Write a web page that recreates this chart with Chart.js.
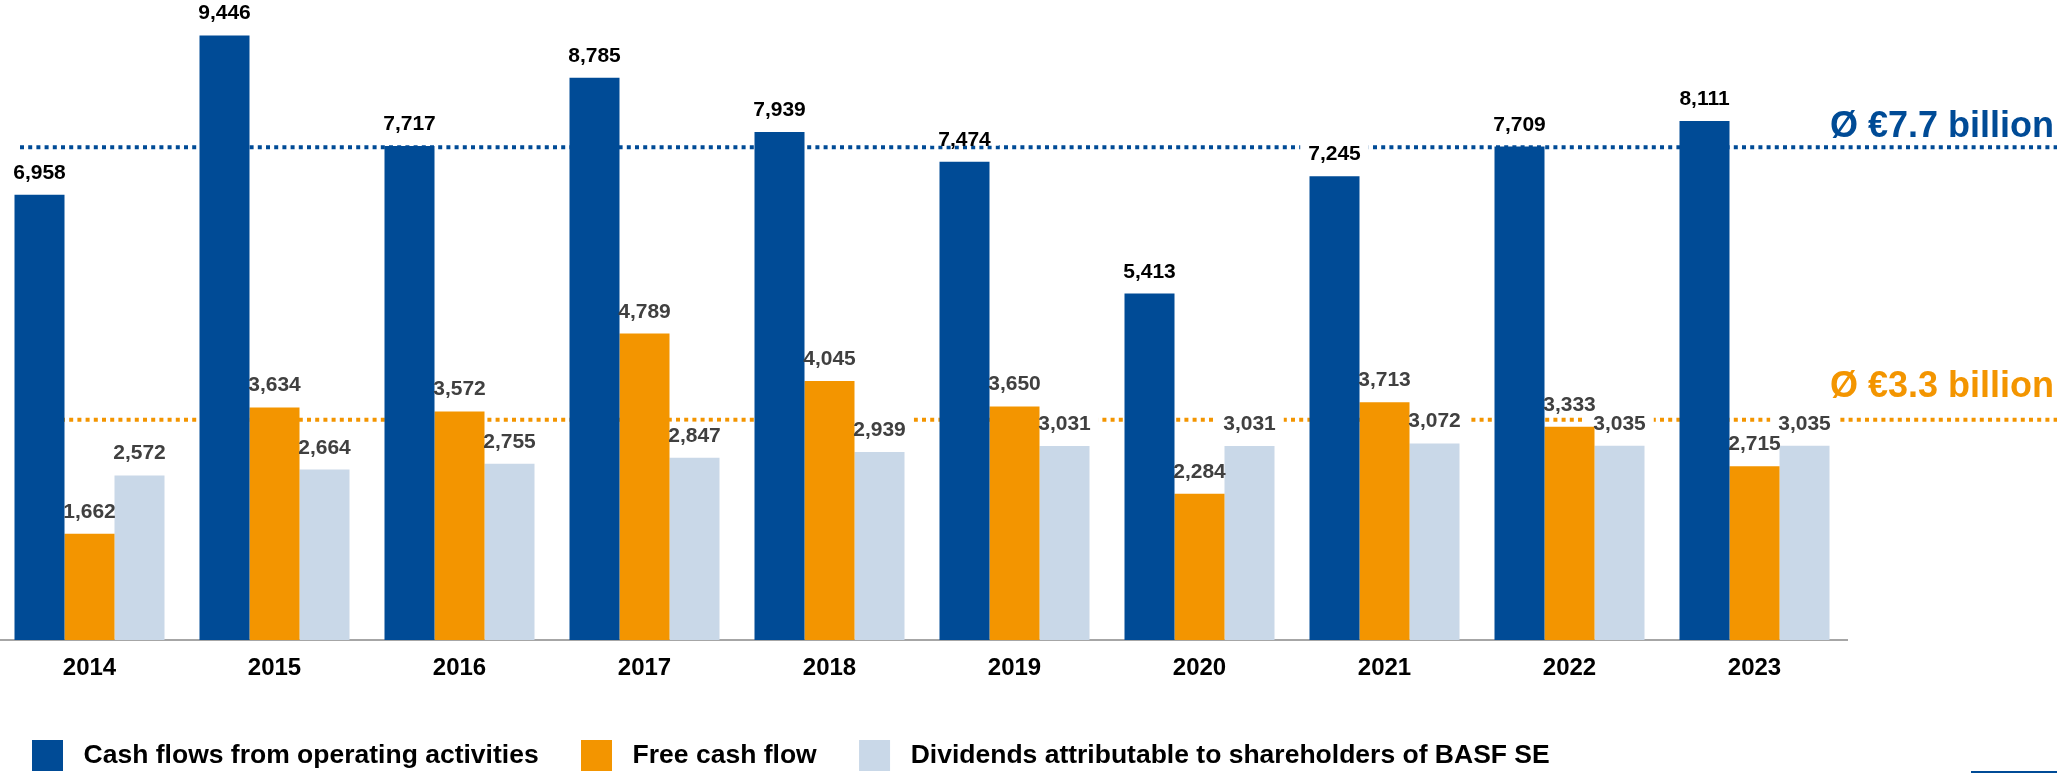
<!DOCTYPE html>
<html>
<head>
<meta charset="utf-8">
<script src="https://cdn.jsdelivr.net/npm/chart.js@4.4.1/dist/chart.umd.min.js"></script>
<style>
    html, body { margin: 0; padding: 0; background: #fff; overflow: hidden; }
    #wrap { position: absolute; left: -3px; top: 0; width: 2060px; height: 781px; }
</style>
</head>
<body>
<div id="wrap"><canvas id="cashChart"></canvas></div>
<script>
const years = ['2014', '2015', '2016', '2017', '2018', '2019', '2020', '2021', '2022', '2023'];
const operatingCashFlow = [6958, 9446, 7717, 8785, 7939, 7474, 5413, 7245, 7709, 8111];
const freeCashFlow = [1662, 3634, 3572, 4789, 4045, 3650, 2284, 3713, 3333, 2715];
const dividends = [2572, 2664, 2755, 2847, 2939, 3031, 3031, 3072, 3035, 3035];
const seriesNames = [
    'Cash flows from operating activities',
    'Free cash flow',
    'Dividends attributable to shareholders of BASF SE'
];
const averageValues = [7700, 3440];
const averageLabels = ['Ø €7.7 billion', 'Ø €3.3 billion'];

const BLUE = '#004B96';
const ORANGE = '#F39500';
const LIGHT = '#C9D8E8';
const FONT = "'Liberation Sans', Arial, sans-serif";

Chart.defaults.font.family = FONT;

const labelColors = ['#000000', '#404040', '#404040'];
const avgColors = [BLUE, ORANGE];
const avgCaptionLift = [10, 23];

function valueLabelItems(chart) {
    const items = [];
    chart.data.datasets.forEach((ds, di) => {
        const meta = chart.getDatasetMeta(di);
        meta.data.forEach((bar, i) => {
            items.push({
                text: ds.data[i].toLocaleString('en-US'),
                x: bar.x,
                y: bar.y - 16,
                color: labelColors[di]
            });
        });
    });
    return items;
}

const overlayPlugin = {
    id: 'overlay',
    beforeDatasetsDraw(chart) {
        const { ctx, scales: { y } } = chart;
        ctx.save();
        // dotted average lines (behind the bars)
        averageValues.forEach((v, i) => {
            const py = y.getPixelForValue(v);
            ctx.strokeStyle = avgColors[i];
            ctx.lineWidth = 4;
            ctx.setLineDash([4, 4.2]);
            ctx.beginPath();
            ctx.moveTo(23, py);
            ctx.lineTo(chart.width, py);
            ctx.stroke();
        });
        ctx.setLineDash([]);
        // white boxes behind the value labels
        ctx.font = `bold 21px ${FONT}`;
        ctx.fillStyle = '#ffffff';
        valueLabelItems(chart).forEach(item => {
            const w = ctx.measureText(item.text).width;
            ctx.fillRect(item.x - w / 2 - 8, item.y - 20, w + 16, 20);
        });
        ctx.restore();
    },
    afterDatasetsDraw(chart) {
        const { ctx, scales: { y } } = chart;
        ctx.save();
        ctx.font = `bold 21px ${FONT}`;
        ctx.textAlign = 'center';
        ctx.textBaseline = 'alphabetic';
        valueLabelItems(chart).forEach(item => {
            ctx.fillStyle = item.color;
            ctx.fillText(item.text, item.x, item.y);
        });

        // average captions on the right
        ctx.font = `bold 36px ${FONT}`;
        ctx.textAlign = 'right';
        averageValues.forEach((v, i) => {
            const py = y.getPixelForValue(v);
            ctx.fillStyle = avgColors[i];
            ctx.fillText(averageLabels[i], chart.width - 3, py - avgCaptionLift[i]);
        });

        // small mark bottom right
        ctx.fillStyle = BLUE;
        ctx.fillRect(1974, 771, 86, 2);
        ctx.restore();
    }
};

new Chart(document.getElementById('cashChart'), {
    type: 'bar',
    data: {
        labels: years,
        datasets: [
            { label: seriesNames[0], data: operatingCashFlow, backgroundColor: BLUE },
            { label: seriesNames[1], data: freeCashFlow, backgroundColor: ORANGE },
            { label: seriesNames[2], data: dividends, backgroundColor: LIGHT }
        ]
    },
    options: {
        responsive: true,
        maintainAspectRatio: false,
        animation: false,
        devicePixelRatio: 1,
        layout: { padding: { left: 0, right: 210, top: 0, bottom: 0 } },
        datasets: { bar: { categoryPercentage: 150 / 185, barPercentage: 1 } },
        plugins: {
            legend: {
                position: 'bottom',
                align: 'start',
                labels: {
                    boxWidth: 31,
                    boxHeight: 31,
                    padding: 35,
                    color: '#000',
                    font: { size: 26.5, weight: 'bold' },
                    generateLabels: (chart) => Chart.defaults.plugins.legend.labels.generateLabels(chart)
                        .map(l => ({ ...l, text: ' ' + l.text + ' ' }))
                }
            },
            tooltip: { enabled: false }
        },
        scales: {
            x: {
                grid: { display: false, drawTicks: false },
                border: { display: true, color: '#A6A6A6', width: 2 },
                ticks: { color: '#000', padding: 14, font: { size: 24, weight: 'bold' } },
                afterFit: (scale) => { scale.height = 65; }
            },
            y: { display: false, min: 0, max: 10000 }
        }
    },
    plugins: [overlayPlugin]
});
</script>
</body>
</html>
